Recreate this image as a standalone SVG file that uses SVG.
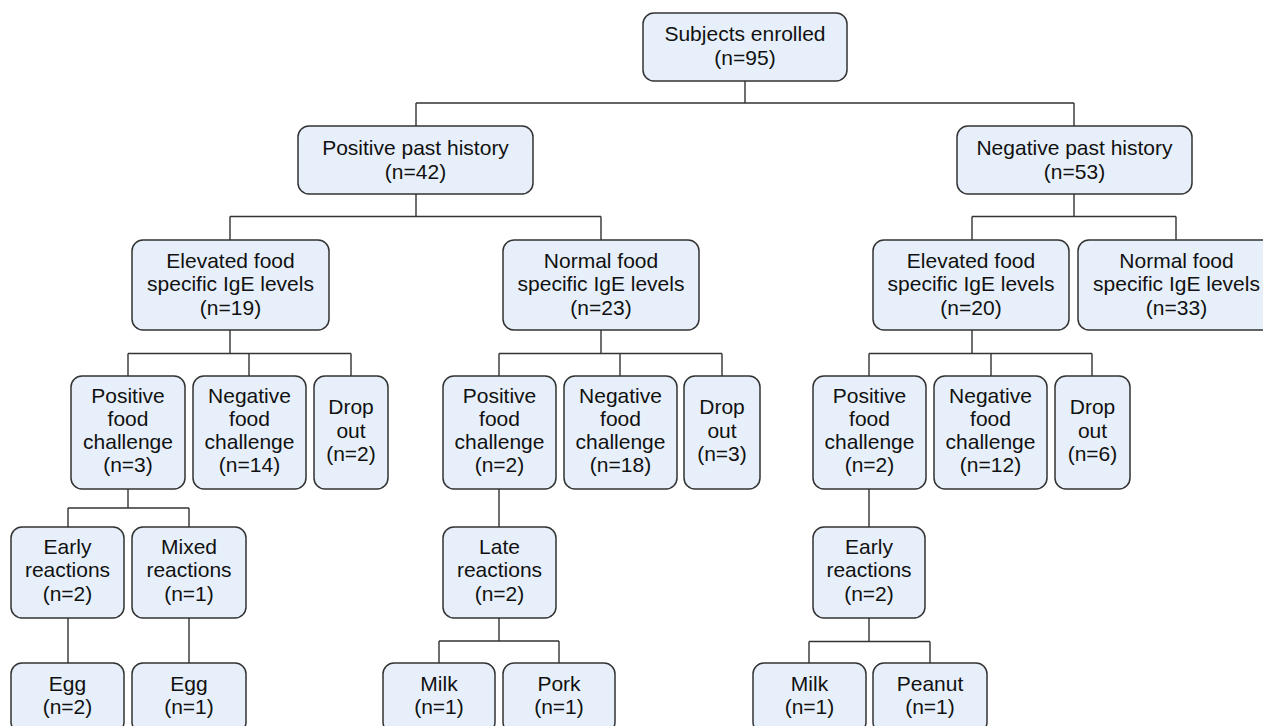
<svg xmlns="http://www.w3.org/2000/svg" width="1263" height="726" viewBox="0 0 1263 726">
<style>
.box{fill:#E7F0FA;stroke:#333;stroke-width:1.5}
.t{font-family:"Liberation Sans",Arial,sans-serif;font-size:21px;fill:#111;text-anchor:middle}
.c{fill:none;stroke:#333;stroke-width:1.4}
</style>
<rect width="1263" height="726" fill="#fff"/>
<g id="connectors">
<path class="c" d="M745 81V103M416 103H1074M416 103V126M1074 103V126"/>
<path class="c" d="M416 194V216.5M230 216.5H601M230 216.5V240M601 216.5V240"/>
<path class="c" d="M1074 194V216.5M972 216.5H1176M972 216.5V240M1176 216.5V240"/>
<path class="c" d="M230 330V353.5M128 353.5H351M128 353.5V376M249 353.5V376M351 353.5V376"/>
<path class="c" d="M601 330V353.5M499 353.5H722M499 353.5V376M620 353.5V376M722 353.5V376"/>
<path class="c" d="M972 330V353.5M869 353.5H1092M869 353.5V376M991 353.5V376M1092 353.5V376"/>
<path class="c" d="M128 489V508M68 508H189M68 508V527M189 508V527"/>
<path class="c" d="M68 618V663M189 618V663"/>
<path class="c" d="M499 489V527M499 618V641M439 641H559M439 641V663M559 641V663"/>
<path class="c" d="M869 489V527M869 618V641.5M809 641.5H930M809 641.5V663M930 641.5V663"/>
</g>
<g id="n0"><rect class="box" x="643" y="13" width="204" height="68" rx="11"/><text class="t" x="745" y="41">Subjects enrolled</text><text class="t" x="745" y="64.5">(n=95)</text></g>
<g id="n1"><rect class="box" x="298" y="126" width="235" height="68" rx="11"/><text class="t" x="415.5" y="155">Positive past history</text><text class="t" x="415.5" y="178.5">(n=42)</text></g>
<g id="n2"><rect class="box" x="957" y="126" width="235" height="68" rx="11"/><text class="t" x="1074.5" y="155">Negative past history</text><text class="t" x="1074.5" y="178.5">(n=53)</text></g>
<g id="n3"><rect class="box" x="132" y="240" width="197" height="90" rx="11"/><text class="t" x="230.5" y="268">Elevated food</text><text class="t" x="230.5" y="291.3">specific IgE levels</text><text class="t" x="230.5" y="314.6">(n=19)</text></g>
<g id="n4"><rect class="box" x="503" y="240" width="196" height="90" rx="11"/><text class="t" x="601" y="268">Normal food</text><text class="t" x="601" y="291.3">specific IgE levels</text><text class="t" x="601" y="314.6">(n=23)</text></g>
<g id="n5"><rect class="box" x="873" y="240" width="196" height="90" rx="11"/><text class="t" x="971" y="268">Elevated food</text><text class="t" x="971" y="291.3">specific IgE levels</text><text class="t" x="971" y="314.6">(n=20)</text></g>
<g id="n6"><rect class="box" x="1078" y="240" width="197" height="90" rx="11"/><text class="t" x="1176.5" y="268">Normal food</text><text class="t" x="1176.5" y="291.3">specific IgE levels</text><text class="t" x="1176.5" y="314.6">(n=33)</text></g>
<g id="n7"><rect class="box" x="71" y="376" width="114" height="113" rx="11"/><text class="t" x="128" y="402.5">Positive</text><text class="t" x="128" y="425.8">food</text><text class="t" x="128" y="449.1">challenge</text><text class="t" x="128" y="472.4">(n=3)</text></g>
<g id="n8"><rect class="box" x="193" y="376" width="113" height="113" rx="11"/><text class="t" x="249.5" y="402.5">Negative</text><text class="t" x="249.5" y="425.8">food</text><text class="t" x="249.5" y="449.1">challenge</text><text class="t" x="249.5" y="472.4">(n=14)</text></g>
<g id="n9"><rect class="box" x="314" y="376" width="74" height="113" rx="11"/><text class="t" x="351" y="414.2">Drop</text><text class="t" x="351" y="437.5">out</text><text class="t" x="351" y="460.8">(n=2)</text></g>
<g id="n10"><rect class="box" x="443" y="376" width="113" height="113" rx="11"/><text class="t" x="499.5" y="402.5">Positive</text><text class="t" x="499.5" y="425.8">food</text><text class="t" x="499.5" y="449.1">challenge</text><text class="t" x="499.5" y="472.4">(n=2)</text></g>
<g id="n11"><rect class="box" x="564" y="376" width="113" height="113" rx="11"/><text class="t" x="620.5" y="402.5">Negative</text><text class="t" x="620.5" y="425.8">food</text><text class="t" x="620.5" y="449.1">challenge</text><text class="t" x="620.5" y="472.4">(n=18)</text></g>
<g id="n12"><rect class="box" x="684" y="376" width="76" height="113" rx="11"/><text class="t" x="722" y="414.2">Drop</text><text class="t" x="722" y="437.5">out</text><text class="t" x="722" y="460.8">(n=3)</text></g>
<g id="n13"><rect class="box" x="813" y="376" width="113" height="113" rx="11"/><text class="t" x="869.5" y="402.5">Positive</text><text class="t" x="869.5" y="425.8">food</text><text class="t" x="869.5" y="449.1">challenge</text><text class="t" x="869.5" y="472.4">(n=2)</text></g>
<g id="n14"><rect class="box" x="934" y="376" width="113" height="113" rx="11"/><text class="t" x="990.5" y="402.5">Negative</text><text class="t" x="990.5" y="425.8">food</text><text class="t" x="990.5" y="449.1">challenge</text><text class="t" x="990.5" y="472.4">(n=12)</text></g>
<g id="n15"><rect class="box" x="1055" y="376" width="75" height="113" rx="11"/><text class="t" x="1092.5" y="414.2">Drop</text><text class="t" x="1092.5" y="437.5">out</text><text class="t" x="1092.5" y="460.8">(n=6)</text></g>
<g id="n16"><rect class="box" x="11" y="527" width="113" height="91" rx="11"/><text class="t" x="67.5" y="554">Early</text><text class="t" x="67.5" y="577.3">reactions</text><text class="t" x="67.5" y="600.6">(n=2)</text></g>
<g id="n17"><rect class="box" x="132" y="527" width="114" height="91" rx="11"/><text class="t" x="189" y="554">Mixed</text><text class="t" x="189" y="577.3">reactions</text><text class="t" x="189" y="600.6">(n=1)</text></g>
<g id="n18"><rect class="box" x="443" y="527" width="113" height="91" rx="11"/><text class="t" x="499.5" y="554">Late</text><text class="t" x="499.5" y="577.3">reactions</text><text class="t" x="499.5" y="600.6">(n=2)</text></g>
<g id="n19"><rect class="box" x="813" y="527" width="112" height="91" rx="11"/><text class="t" x="869" y="554">Early</text><text class="t" x="869" y="577.3">reactions</text><text class="t" x="869" y="600.6">(n=2)</text></g>
<g id="n20"><rect class="box" x="11" y="663" width="113" height="70" rx="11"/><text class="t" x="67.5" y="691">Egg</text><text class="t" x="67.5" y="714">(n=2)</text></g>
<g id="n21"><rect class="box" x="132" y="663" width="114" height="70" rx="11"/><text class="t" x="189" y="691">Egg</text><text class="t" x="189" y="714">(n=1)</text></g>
<g id="n22"><rect class="box" x="383" y="663" width="112" height="70" rx="11"/><text class="t" x="439" y="691">Milk</text><text class="t" x="439" y="714">(n=1)</text></g>
<g id="n23"><rect class="box" x="503" y="663" width="112" height="70" rx="11"/><text class="t" x="559" y="691">Pork</text><text class="t" x="559" y="714">(n=1)</text></g>
<g id="n24"><rect class="box" x="753" y="663" width="113" height="70" rx="11"/><text class="t" x="809.5" y="691">Milk</text><text class="t" x="809.5" y="714">(n=1)</text></g>
<g id="n25"><rect class="box" x="873" y="663" width="114" height="70" rx="11"/><text class="t" x="930" y="691">Peanut</text><text class="t" x="930" y="714">(n=1)</text></g>
</svg>
